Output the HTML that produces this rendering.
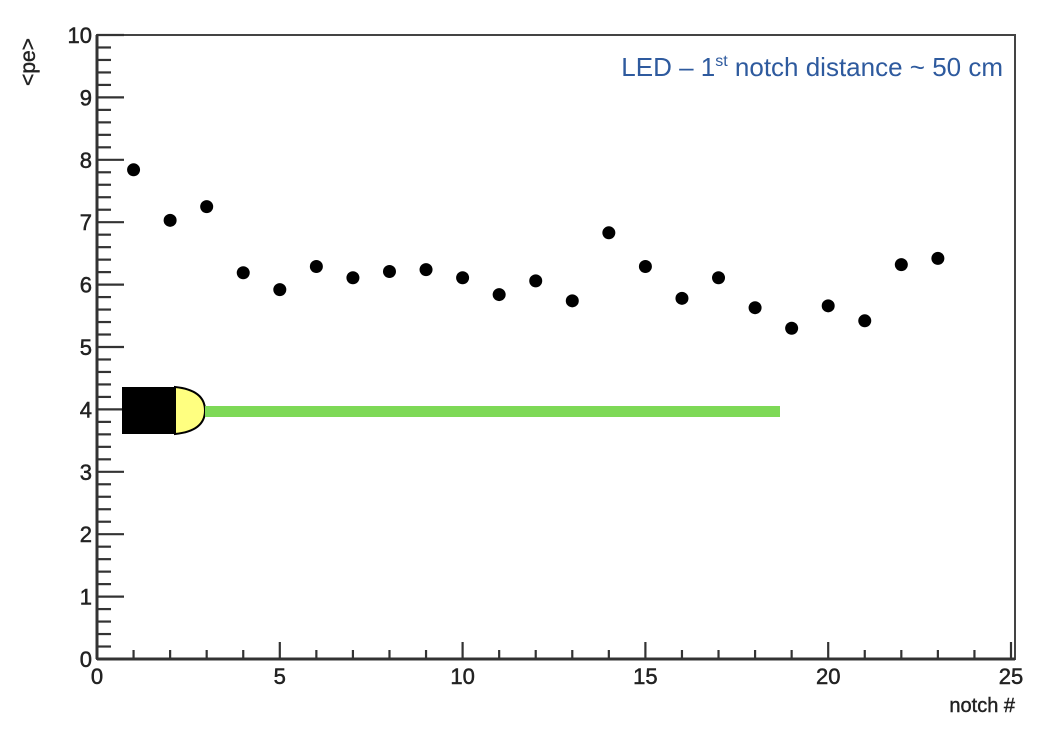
<!DOCTYPE html>
<html><head><meta charset="utf-8"><style>
html,body{margin:0;padding:0;background:#fff;}
svg{display:block;font-family:"Liberation Sans",Arial,sans-serif;}
</style></head><body>
<svg id="chart" width="1058" height="742" viewBox="0 0 1058 742">
<rect x="0" y="0" width="1058" height="742" fill="#fff"/>
<g id="axes"></g>
<g id="decor">
  <rect x="122" y="387" width="54" height="47" fill="#000"/>
  <path d="M175,387 Q205,390 205,410.5 Q205,431 175,434 Z" fill="#ffff80" stroke="#000" stroke-width="2"/>
  <rect x="205" y="406" width="575" height="11" fill="#7ed957"/>
</g>
<g id="points"></g>
<text x="1003" y="76" text-anchor="end" font-size="26" fill="#2e5a9e">LED – 1<tspan font-size="16" dy="-10">st</tspan><tspan dy="10"> notch distance ~ 50 cm</tspan></text>
<text x="1015" y="712" text-anchor="end" font-size="20" fill="#222" stroke="#222" stroke-width="0.4">notch #</text>
<text transform="translate(35,62) rotate(-90)" text-anchor="middle" font-size="21" fill="#222" stroke="#222" stroke-width="0.4">&lt;pe&gt;</text>
</svg>
<script>
const notches=[1,2,3,4,5,6,7,8,9,10,11,12,13,14,15,16,17,18,19,20,21,22,23];
const peValues=[7.84,7.03,7.25,6.19,5.92,6.29,6.11,6.21,6.24,6.11,5.84,6.06,5.74,6.83,6.29,5.78,6.11,5.63,5.30,5.66,5.42,6.32,6.42];
const xTicks=[0,5,10,15,20,25];
const yTicks=[0,1,2,3,4,5,6,7,8,9,10];
const X0=97,X1=1011,Y0=659,Y1=35,XF=1015;
const xs=v=>X0+(v/25)*(X1-X0);
const ys=v=>Y0-(v/10)*(Y0-Y1);
const NS='http://www.w3.org/2000/svg';
function mk(t,a,p){const e=document.createElementNS(NS,t);for(const k in a)e.setAttribute(k,a[k]);p.appendChild(e);return e;}
const ax=document.getElementById('axes');
const frame=mk('rect',{x:X0,y:Y1,width:XF-X0,height:Y0-Y1,fill:'none',stroke:'#444','stroke-width':2},ax);


const xl=mk('line',{x1:X0,y1:Y0,x2:XF,y2:Y0,stroke:'#333','stroke-width':3},ax);


const yl=mk('line',{x1:X0,y1:Y0,x2:X0,y2:Y1,stroke:'#333','stroke-width':3},ax);


for(let i=0;i<=25;i++){const x=xs(i);const L=(i%5===0)?17:9;mk('line',{x1:x,y1:Y0,x2:x,y2:Y0-L,stroke:'#333','stroke-width':2.2},ax);}
for(let i=0;i<=50;i++){const y=ys(i/5);const L=(i%5===0)?27:14;mk('line',{x1:X0,y1:y,x2:X0+L,y2:y,stroke:'#333','stroke-width':2.2},ax);}
xTicks.forEach(v=>{const t=mk('text',{x:xs(v),y:Y0+25,'text-anchor':'middle','font-size':22,fill:'#222',stroke:'#222','stroke-width':0.5},ax);t.textContent=v;

});
yTicks.forEach(v=>{const t=mk('text',{x:X0-5,y:ys(v)+8,'text-anchor':'end','font-size':22,fill:'#222',stroke:'#222','stroke-width':0.5},ax);t.textContent=v;

});
const pg=document.getElementById('points');
notches.forEach((n,i)=>{const c=mk('circle',{cx:xs(n),cy:ys(peValues[i]),r:6.5,fill:'#000'},pg);

});
</script>
</body></html>
